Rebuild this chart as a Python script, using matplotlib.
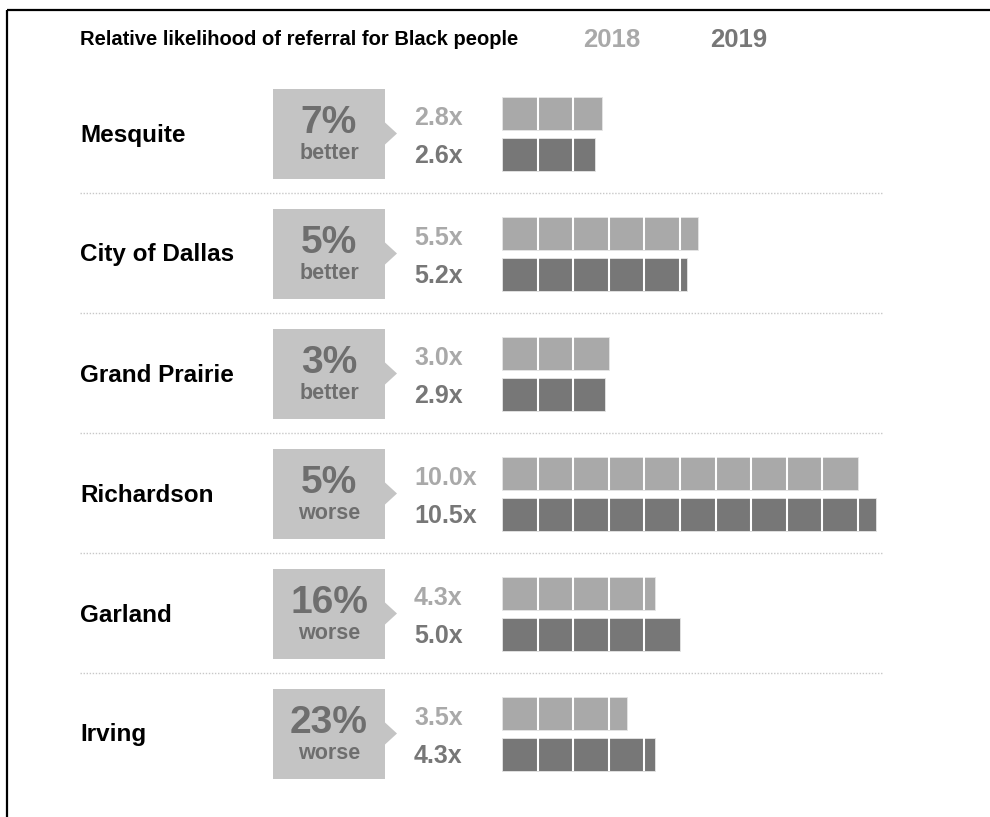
import matplotlib
matplotlib.use("Agg")
import matplotlib.pyplot as plt
from matplotlib.patches import Rectangle, Polygon

plt.rcParams['font.family'] = ['Liberation Sans', 'DejaVu Sans']

# data
cities = ["Mesquite", "City of Dallas", "Grand Prairie", "Richardson", "Garland", "Irving"]
ratio_2018 = [2.8, 5.5, 3.0, 10.0, 4.3, 3.5]
ratio_2019 = [2.6, 5.2, 2.9, 10.5, 5.0, 4.3]
change_pct = [7, 5, 3, 5, 16, 23]
change_word = ["better", "better", "better", "worse", "worse", "worse"]
years = ["2018", "2019"]

c_light = "#a9a9a9"
c_dark = "#777777"
c_box = "#c4c4c4"
c_box_text = "#6e6e6e"

W, H = 990, 817
fig = plt.figure(figsize=(W / 100, H / 100), dpi=100)
ax = fig.add_axes([0, 0, 1, 1])
ax.set_xlim(0, W)
ax.set_ylim(H, 0)
ax.axis("off")

# bar area, x in units of "times as likely"
unit = 35.6
bar_x0 = 502
bx = fig.add_axes([bar_x0 / W, 0, (W - bar_x0) / W, 1])
bx.set_xlim(0, (W - bar_x0) / unit)
bx.set_ylim(H, 0)
bx.axis("off")

# frame (top and left only)
ax.plot([7, W], [10, 10], color="black", lw=1.6, solid_capstyle="butt")
ax.plot([7, 7], [10, H], color="black", lw=1.6, solid_capstyle="butt")

# header
ax.text(80, 45, "Relative likelihood of referral for Black people", fontsize=14.5,
        fontweight="bold", color="black", va="baseline")
ax.text(583, 47, years[0], fontsize=18.5, fontweight="bold", color=c_light, va="baseline")
ax.text(710, 47, years[1], fontsize=18.5, fontweight="bold", color=c_dark, va="baseline")

row0, step = 133.5, 120
bar_h = 33
for i, city in enumerate(cities):
    yc = row0 + step * i

    ax.text(80, yc + 8, city, fontsize=17.5, fontweight="bold", color="black", va="baseline")

    # callout box with pointer
    ax.add_patch(Rectangle((273, yc - 45), 112, 90, facecolor=c_box, edgecolor="none"))
    ax.add_patch(Polygon([(385, yc - 11), (397, yc), (385, yc + 11)], closed=True,
                         facecolor=c_box, edgecolor="none"))
    ax.text(329, yc - 0.5, f"{change_pct[i]}%", fontsize=28, fontweight="bold",
            color=c_box_text, ha="center", va="baseline")
    ax.text(329, yc + 25.5, change_word[i], fontsize=15.5, fontweight="bold",
            color=c_box_text, ha="center", va="baseline")

    # value labels
    ax.text(414, yc - 8.5, f"{ratio_2018[i]:.1f}x", fontsize=18, fontweight="bold",
            color=c_light, va="baseline")
    ax.text(414, yc + 29.5, f"{ratio_2019[i]:.1f}x", fontsize=18, fontweight="bold",
            color=c_dark, va="baseline")

    # segmented bars
    for val, yb, col in [(ratio_2018[i], yc - 20, c_light), (ratio_2019[i], yc + 21, c_dark)]:
        bx.barh(yb, val, height=bar_h, left=0, color=col, edgecolor="#e6e6e6", linewidth=0.6)
        k = 1
        while k < val:
            bx.plot([k, k], [yb - bar_h / 2, yb + bar_h / 2], color="white", lw=1.5,
                    solid_capstyle="butt")
            k += 1

    # dotted separator
    if i < len(cities) - 1:
        ax.plot([80, 883], [yc + 59.5, yc + 59.5], color="#c8c8c8", lw=1,
                linestyle=(0, (1, 1.2)))

fig.savefig("out.png", dpi=100)
